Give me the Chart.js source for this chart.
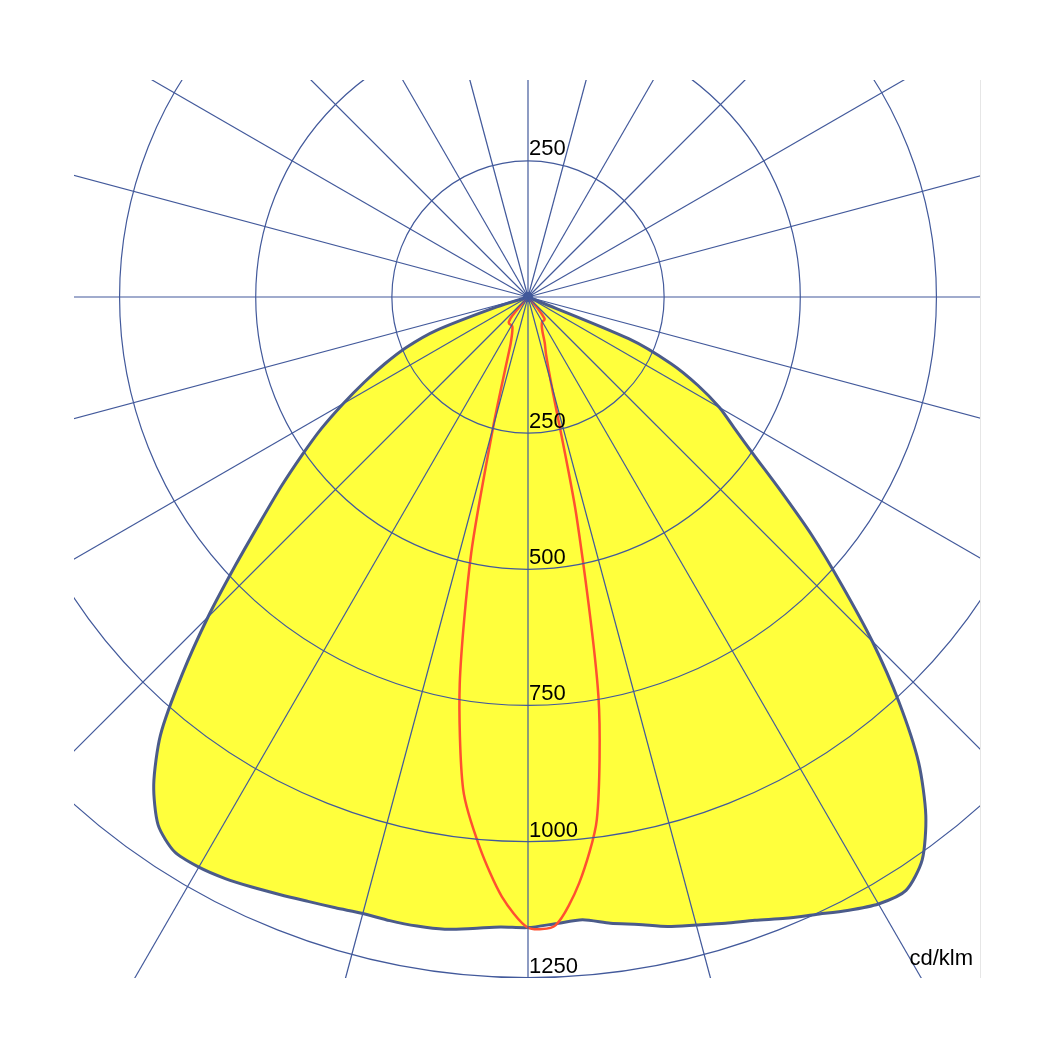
<!DOCTYPE html>
<html lang="en">
<head>
<meta charset="UTF-8">
<title>Luminous intensity distribution</title>
<script src="https://cdn.jsdelivr.net/npm/chart.js"></script>
<style>
  body { margin: 0; padding: 0; background: #fff; width: 1054px; height: 1054px; position: relative; overflow: hidden; }
  #view { position: absolute; overflow: hidden; border-right: 1px solid #e6e6e6; }
  #view canvas { position: absolute; }
</style>
</head>
<body>
<div id="view"><canvas id="polar"></canvas></div>
<script>
// intensity in cd/klm, every 2.5 deg from nadir (0) up to the horizontal (90)
// nothing is emitted above the horizontal, those angles are 0
const gammaStep = 2.5;

const c0Right = [1158, 1152, 1148, 1160, 1170, 1184, 1194, 1206, 1218, 1235,
                 1251, 1270, 1287, 1292, 1262, 1200, 1116, 1008, 894, 780,
                 680, 585, 507, 450, 406, 352, 290, 200, 0, 0,
                 0, 0, 0, 0, 0, 0, 0];
const c180Left = [1158, 1158, 1164, 1171, 1173, 1173, 1172, 1176, 1181, 1188,
                  1196, 1204, 1209, 1208, 1184, 1129, 1050, 940, 831, 728,
                  641, 571, 507, 450, 392, 339, 290, 242, 180, 60,
                  0, 0, 0, 0, 0, 0, 0];
const c90Right = [1158, 1155, 1080, 968, 745, 410, 165, 110, 90, 70,
                  60, 55, 52, 52, 52, 50, 30, 0, 0, 0,
                  0, 0, 0, 0, 0, 0, 0, 0, 0, 0,
                  0, 0, 0, 0, 0, 0, 0];
const c270Left = [1158, 1102, 1015, 912, 722, 482, 247, 140, 95, 78,
                  68, 62, 60, 60, 60, 58, 45, 0, 0, 0,
                  0, 0, 0, 0, 0, 0, 0, 0, 0, 0,
                  0, 0, 0, 0, 0, 0, 0];

const tickValues = [250, 500, 750, 1000, 1250];
const tickLabels = ['250', '500', '750', '1000', '1250'];
const upperTickValue = 250;
const unitLabel = 'cd/klm';

const gridColor = '#42599b';
const fillColor = 'rgb(255, 255, 60)';
const outlineColor = '#4b5b8a';
const redColor = '#ff5030';

// the visible window and where the (bigger) canvas sits in it
const VIEW = { left: 74, top: 80, width: 906, height: 898 };
const CANVAS_SIZE = 1906;      // radius 953 px = 1750 cd/klm
const CANVAS_LEFT = -499;
const CANVAS_TOP = -736;

const view = document.getElementById('view');
view.style.left = VIEW.left + 'px';
view.style.top = VIEW.top + 'px';
view.style.width = VIEW.width + 'px';
view.style.height = VIEW.height + 'px';
const canvas = document.getElementById('polar');
canvas.width = CANVAS_SIZE;
canvas.height = CANVAS_SIZE;
canvas.style.left = CANVAS_LEFT + 'px';
canvas.style.top = CANVAS_TOP + 'px';

// radar labels run clockwise from the zenith
const labels = [];
for (let phi = 0; phi < 360; phi += gammaStep) labels.push(phi);

function series(right, left) {
  return labels.map(phi => {
    const side = phi <= 180 ? right : left;
    const gamma = phi <= 180 ? 180 - phi : phi - 180;
    const i = Math.round(gamma / gammaStep);
    return i < side.length ? side[i] : 0;
  });
}

const polarLabels = {
  id: 'polarLabels',
  afterDraw(chart) {
    const s = chart.scales.r;
    const c = chart.ctx;
    c.save();
    c.font = '22px "Liberation Sans", Arial, sans-serif';
    c.fillStyle = '#000';
    c.textAlign = 'left';
    c.textBaseline = 'alphabetic';
    tickValues.forEach((v, i) => {
      const d = s.getDistanceFromCenterForValue(v);
      c.fillText(tickLabels[i], s.xCenter + 1, s.yCenter + d - 5);
    });
    const du = s.getDistanceFromCenterForValue(upperTickValue);
    c.fillText(String(upperTickValue), s.xCenter + 1, s.yCenter - du - 6);
    c.textAlign = 'right';
    c.fillText(unitLabel, VIEW.width - CANVAS_LEFT - 7, VIEW.height - CANVAS_TOP - 13);
    c.restore();
  }
};

new Chart(canvas.getContext('2d'), {
  type: 'radar',
  data: {
    labels: labels,
    datasets: [
      {
        label: 'C90 - C270',
        data: series(c90Right, c270Left),
        borderColor: redColor,
        borderWidth: 2.5,
        fill: false,
        pointRadius: 0
      },
      {
        label: 'C0 - C180',
        data: series(c0Right, c180Left),
        borderColor: outlineColor,
        borderWidth: 3,
        backgroundColor: fillColor,
        fill: 'origin',
        pointRadius: ctx => ctx.dataIndex === 0 ? 5 : 0,
        pointBackgroundColor: '#3b5597',
        pointBorderWidth: 0
      }
    ]
  },
  options: {
    responsive: false,
    animation: false,
    events: [],
    layout: { padding: 0 },
    elements: { line: { tension: 0.25 } },
    plugins: {
      legend: { display: false },
      tooltip: { enabled: false }
    },
    scales: {
      r: {
        min: 0,
        max: 1750,
        startAngle: 0,
        ticks: { display: false, stepSize: 250 },
        pointLabels: { display: false },
        grid: {
          circular: true,
          z: 1,
          color: ctx => (ctx.tick && ctx.tick.value > 1250) ? 'rgba(0,0,0,0)' : gridColor,
          lineWidth: 1.2
        },
        angleLines: {
          color: gridColor,
          lineWidth: ctx => ctx.index % 6 === 0 ? 1.2 : 0
        }
      }
    }
  },
  plugins: [polarLabels]
});
</script>
</body>
</html>
